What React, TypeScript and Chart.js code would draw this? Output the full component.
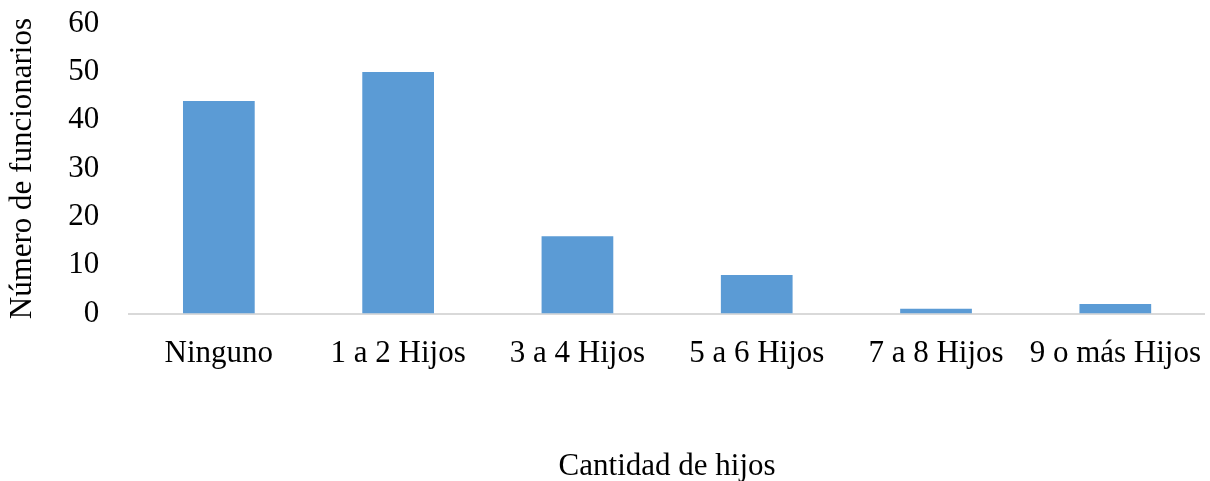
import React, { useEffect, useRef } from "react";
import { Chart, registerables } from "chart.js";

Chart.register(...registerables);

const categories = ["Ninguno", "1 a 2 Hijos", "3 a 4 Hijos", "5 a 6 Hijos", "7 a 8 Hijos", "9 o más Hijos"];
const values = [44, 50, 16, 8, 1, 2];
const xTitle = "Cantidad de hijos";
const yTitle = "Número de funcionarios";

export default function App() {
  const ref = useRef<HTMLCanvasElement>(null);
  useEffect(() => {
    document.body.style.margin = "0";
    const font = { family: "'Liberation Serif', 'Times New Roman', serif", size: 31 };
    const chart = new Chart(ref.current!, {
      type: "bar",
      data: {
        labels: categories,
        datasets: [{ data: values, backgroundColor: "#5b9bd5", barPercentage: 0.4, categoryPercentage: 1 }],
      },
      options: {
        animation: false,
        responsive: false,
        maintainAspectRatio: false,
        layout: { padding: { top: -28, right: -8, bottom: -4, left: 4 } },
        plugins: { legend: { display: false }, tooltip: { enabled: false } },
        scales: {
          x: {
            grid: { display: false },
            border: { display: true, color: "#d9d9d9", width: 2 },
            ticks: { color: "#000", font, padding: 14, maxRotation: 0, autoSkip: false },
            title: { display: true, text: xTitle, color: "#000", font, padding: { top: 61, bottom: 0 } },
          },
          y: {
            min: 0,
            max: 60,
            grid: { display: false },
            border: { display: false },
            ticks: { stepSize: 10, color: "#000", font, padding: 22, autoSkip: false },
            title: { display: true, text: yTitle, color: "#000", font, padding: { top: 0, bottom: 5 } },
          },
        },
      },
    });
    return () => chart.destroy();
  }, []);
  return (
    <div style={{ width: 1210, height: 481, overflow: "hidden", position: "relative" }}>
      <canvas ref={ref} width={1215} height={498} style={{ display: "block", marginTop: -17 }} />
    </div>
  );
}
